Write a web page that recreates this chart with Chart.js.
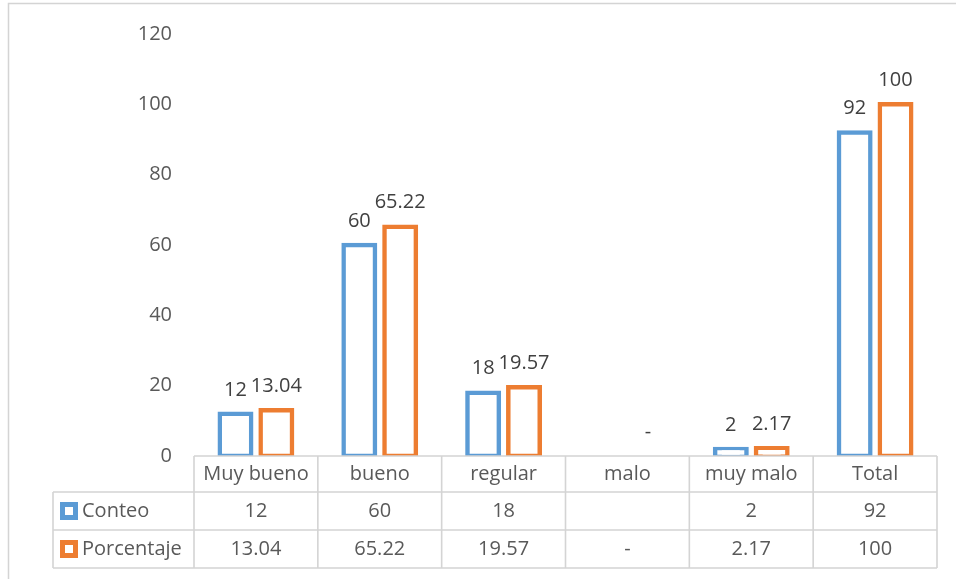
<!DOCTYPE html>
<html>
<head>
<meta charset="utf-8">
<script src="https://cdn.jsdelivr.net/npm/chart.js@4/dist/chart.umd.min.js"></script>
<style>
  html, body { margin: 0; padding: 0; background: #fff; }
  canvas { display: block; }
</style>
</head>
<body>
<canvas id="chart" width="956" height="579"></canvas>
<script>
const categories = ['Muy bueno', 'bueno', 'regular', 'malo', 'muy malo', 'Total'];
const conteo = [12, 60, 18, null, 2, 92];
const porcentaje = [13.04, 65.22, 19.57, 0, 2.17, 100];
const yTicks = [0, 20, 40, 60, 80, 100, 120];

const BLUE = '#5B9BD5';
const ORANGE = '#ED7D31';
const GRID = '#d4d4d4';
const FONT = '"Open Sans", "Noto Sans", sans-serif';

const fmt = v => (v === null || v === undefined) ? '' : (v === 0 ? '-' : String(v));

// value labels above each bar
const barLabels = {
    id: 'barLabels',
    afterDatasetsDraw(chart) {
        const ctx = chart.ctx;
        const y0 = chart.scales.y.getPixelForValue(0);
        ctx.save();
        ctx.font = '20px ' + FONT;
        ctx.fillStyle = '#404040';
        ctx.textAlign = 'center';
        ctx.textBaseline = 'middle';
        chart.data.datasets.forEach((ds, di) => {
            chart.getDatasetMeta(di).data.forEach((bar, i) => {
                const v = ds.data[i];
                if (v === null) return;
                const top = Math.min(bar.y, y0);
                ctx.fillText(fmt(v), bar.x, top - 24);
            });
        });
        ctx.restore();
    }
};

// outer frame + data table under the plot
const dataTable = {
    id: 'dataTable',
    beforeDraw(chart) {
        const ctx = chart.ctx;
        ctx.save();
        ctx.strokeStyle = GRID;
        ctx.lineWidth = 1.5;
        ctx.strokeRect(8.5, 3.5, chart.width + 20, chart.height + 20);
        ctx.restore();
    },
    afterDraw(chart) {
        const ctx = chart.ctx;
        const x = chart.scales.x;
        const area = chart.chartArea;
        const n = categories.length;
        const step = (area.right - area.left) / n;
        const rows = [area.bottom, area.bottom + 36, area.bottom + 74, area.bottom + 112];
        const tableLeft = 53;

        ctx.save();
        ctx.strokeStyle = GRID;
        ctx.lineWidth = 1.6;
        ctx.beginPath();
        ctx.moveTo(area.left, rows[0]);
        ctx.lineTo(area.right, rows[0]);
        for (let r = 1; r < rows.length; r++) {
            ctx.moveTo(tableLeft, rows[r]);
            ctx.lineTo(area.right, rows[r]);
        }
        for (let i = 0; i <= n; i++) {
            const px = area.left + i * step;
            ctx.moveTo(px, rows[0]);
            ctx.lineTo(px, rows[3]);
        }
        ctx.moveTo(tableLeft, rows[1]);
        ctx.lineTo(tableLeft, rows[3]);
        ctx.stroke();

        ctx.font = '20px ' + FONT;
        ctx.fillStyle = '#595959';
        ctx.textAlign = 'center';
        ctx.textBaseline = 'middle';
        const mid = r => (rows[r] + rows[r + 1]) / 2;
        categories.forEach((c, i) => {
            const cx = x.getPixelForValue(i);
            ctx.fillText(c, cx, mid(0));
            ctx.fillText(fmt(conteo[i]), cx, mid(1));
            ctx.fillText(fmt(porcentaje[i]), cx, mid(2));
        });

        // series keys
        chart.data.datasets.forEach((ds, di) => {
            const cy = mid(di + 1);
            ctx.fillStyle = ds.borderColor;
            ctx.fillRect(60, cy - 9, 18, 18);
            ctx.fillStyle = '#fff';
            ctx.fillRect(65, cy - 4, 8, 8);
            ctx.fillStyle = '#595959';
            ctx.textAlign = 'left';
            ctx.fillText(ds.label, 82, cy);
        });
        ctx.restore();
    }
};

new Chart(document.getElementById('chart'), {
    type: 'bar',
    data: {
        labels: categories,
        datasets: [
            { label: 'Conteo', data: conteo, borderColor: BLUE, backgroundColor: '#fff' },
            { label: 'Porcentaje', data: porcentaje, borderColor: ORANGE, backgroundColor: '#fff' }
        ]
    },
    options: {
        responsive: false,
        animation: false,
        layout: { padding: { top: 32, right: 19, bottom: 0, left: 0 } },
        datasets: {
            bar: {
                // half the border sits outside the bar edge
                borderWidth: 4.5,
                inflateAmount: 2.25,
                borderSkipped: false,
                categoryPercentage: 0.66,
                barPercentage: 0.77
            }
        },
        plugins: {
            legend: { display: false },
            tooltip: { enabled: false }
        },
        scales: {
            x: {
                grid: { display: false },
                border: { display: false },
                ticks: { display: false },
                afterFit: s => { s.height = 123; }
            },
            y: {
                min: 0,
                max: 120,
                afterBuildTicks: s => { s.ticks = yTicks.map(v => ({ value: v })); },
                grid: { display: false, drawTicks: false },
                border: { display: false },
                ticks: {
                    padding: 22,
                    color: '#595959',
                    font: { family: FONT, size: 20 }
                },
                afterFit: s => { s.width = 194; }
            }
        }
    },
    plugins: [barLabels, dataTable]
});
</script>
</body>
</html>
